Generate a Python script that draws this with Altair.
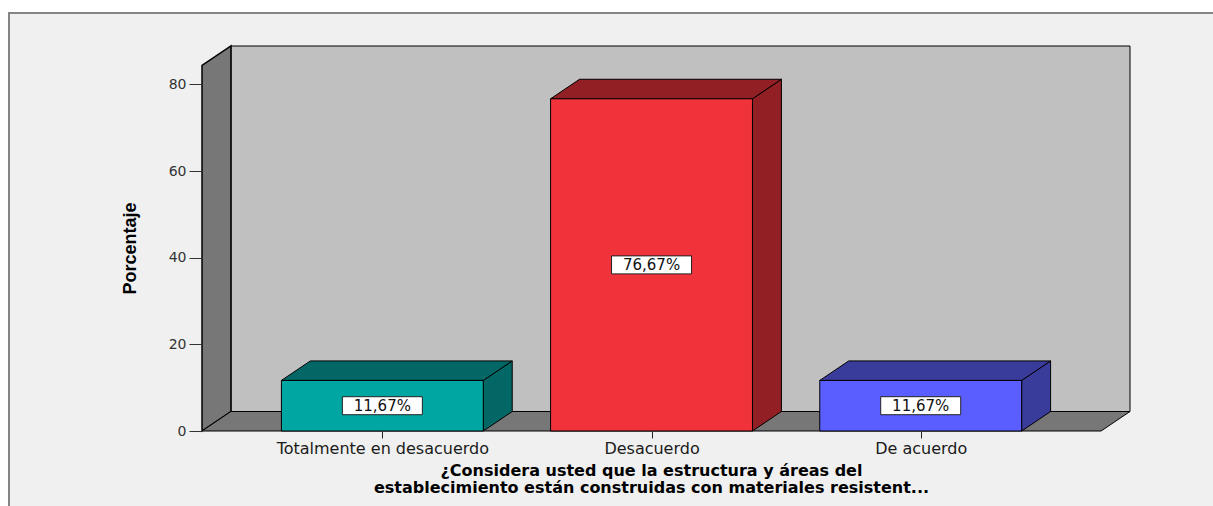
import altair as alt
import pandas as pd

# ---------------- data ----------------
categories = ["Totalmente en desacuerdo", "Desacuerdo", "De acuerdo"]
percent = [11.67, 76.67, 11.67]
value_labels = ["11,67%", "76,67%", "11,67%"]
y_ticks = [0, 20, 40, 60, 80]
y_title = "Porcentaje"
x_title = [
    "¿Considera usted que la estructura y áreas del",
    "establecimiento están construidas con materiales resistent...",
]

# ---------------- styles ----------------
front_colors = ["#00a6a2", "#f0323b", "#5a5eff"]
side_colors = ["#036765", "#921f24", "#3a3c9c"]
WALL_COLOR = "#777777"
BACK_COLOR = "#c0c0c0"
FRAME_COLOR = "#f0f0f0"

# ---------------- layout (3D box geometry) ----------------
W, H = 928, 385
PAD_OUT = 0.17          # outer padding in category steps
HALF = 0.375            # half bar width in category steps
FLOOR_END = 3 + 2 * PAD_OUT
DX = 0.1075             # depth offset (x units)
DV = 4.5                # depth offset (y units)
X_MAX = FLOOR_END + DX
Y_MAX = 88.85
WALL_TOP = Y_MAX - DV

centers = [PAD_OUT + 0.5 + i for i in range(len(categories))]

xs = alt.Scale(domain=[0, X_MAX], nice=False, zero=False)
ys = alt.Scale(domain=[0, Y_MAX], nice=False, zero=False)

# label expression for category axis
expr = "'" + categories[-1] + "'"
for c, name in reversed(list(zip(centers[:-1], categories[:-1]))):
    expr = f"datum.value < {c + 0.5} ? '{name}' : ({expr})"

x_axis = alt.Axis(
    values=centers, labelExpr=expr, tickSize=7, tickColor="#222",
    labelFont="DejaVu Sans", labelFontSize=16, labelColor="#1a1a1a",
    labelPadding=2, labelOverlap=False, labelFlush=False, labelLimit=0,
    domain=False, grid=False, zindex=1,
    title=x_title, titleFont="DejaVu Sans", titleFontSize=16,
    titleFontWeight="bold", titleColor="#000", titleLineHeight=17,
    titleX=449, titleY=44, titleAlign="center", titleBaseline="alphabetic",
    titleLimit=0,
)
y_axis = alt.Axis(
    values=y_ticks, tickSize=13, tickColor="#333",
    labelFont="DejaVu Sans", labelFontSize=14, labelColor="#333",
    labelPadding=3, domain=False, grid=False, zindex=1,
    title=y_title, titleFont="Liberation Sans Narrow, Liberation Sans",
    titleFontSize=18, titleFontWeight="bold", titleColor="#000",
    titleAngle=270, titleX=-72, titleY=202, titleAlign="center",
    titleBaseline="middle",
)


def X(field):
    return alt.X(field, type="quantitative", scale=xs, axis=x_axis)


def Y(field):
    return alt.Y(field, type="quantitative", scale=ys, axis=y_axis)


# ---------------- tables ----------------
back_df = pd.DataFrame({"x": [DX], "x2": [X_MAX], "y": [DV], "y2": [Y_MAX]})
left_df = pd.DataFrame({"x": [0, DX], "y": [0, DV], "y2": [WALL_TOP, Y_MAX]})
floor_df = pd.DataFrame({"y": [0, DV], "x": [0, DX], "x2": [FLOOR_END, X_MAX]})

front_rows, side_rows, top_rows, lab_rows = [], [], [], []
for i, (cat, v, lab) in enumerate(zip(categories, percent, value_labels)):
    x0, x1 = centers[i] - HALF, centers[i] + HALF
    front_rows.append({"cat": cat, "x": x0, "x2": x1, "y": 0, "y2": v, "fill": front_colors[i]})
    side_rows += [
        {"g": i, "x": x1, "y": v, "y2": 0, "fill": side_colors[i]},
        {"g": i, "x": x1 + DX, "y": v + DV, "y2": DV, "fill": side_colors[i]},
    ]
    top_rows += [
        {"g": i, "y": v, "x": x0, "x2": x1, "fill": side_colors[i]},
        {"g": i, "y": v + DV, "x": x0 + DX, "x2": x1 + DX, "fill": side_colors[i]},
    ]
    lab_rows.append({"x": centers[i], "y": v / 2, "label": lab})

front_df = pd.DataFrame(front_rows)
side_df = pd.DataFrame(side_rows)
top_df = pd.DataFrame(top_rows)
lab_df = pd.DataFrame(lab_rows)

# ---------------- layers ----------------
frame = alt.Chart(pd.DataFrame({"a": [0]})).mark_rect(
    fill=FRAME_COLOR, stroke="#858585", strokeWidth=2
).encode(
    x=alt.value(-193), x2=alt.value(W + 200), y=alt.value(-33), y2=alt.value(H + 200)
)

back = alt.Chart(back_df).mark_rect(fill=BACK_COLOR, stroke="#000", strokeWidth=1).encode(
    x=X("x"), x2="x2:Q", y=Y("y"), y2="y2:Q",
)

left_wall = alt.Chart(left_df).mark_area(
    orient="vertical", fill=WALL_COLOR, stroke="#000", strokeWidth=1.5
).encode(x=X("x"), y=Y("y"), y2="y2:Q")

floor = alt.Chart(floor_df).mark_area(
    orient="horizontal", fill=WALL_COLOR, stroke="#000", strokeWidth=1
).encode(y=Y("y"), x=X("x"), x2="x2:Q")

sides = alt.Chart(side_df).mark_area(
    orient="vertical", stroke="#000", strokeWidth=1
).encode(
    x=X("x"), y=Y("y"), y2="y2:Q",
    detail="g:N", color=alt.Color("fill:N", scale=None),
)

tops = alt.Chart(top_df).mark_area(
    orient="horizontal", stroke="#000", strokeWidth=1
).encode(
    y=Y("y"), x=X("x"), x2="x2:Q",
    detail="g:N", color=alt.Color("fill:N", scale=None),
)

fronts = alt.Chart(front_df).mark_rect(stroke="#000", strokeWidth=1).encode(
    x=X("x"), x2="x2:Q", y=Y("y"), y2="y2:Q",
    color=alt.Color("fill:N", scale=None),
)

boxes = alt.Chart(lab_df).mark_point(
    shape="M-1,-0.225L1,-0.225L1,0.225L-1,0.225Z", size=6400,
    filled=True, fill="#ffffff", stroke="#222", strokeWidth=1, opacity=1,
).encode(x=X("x"), y=Y("y"))

texts = alt.Chart(lab_df).mark_text(
    font="DejaVu Sans", fontSize=15, color="#111", align="center", baseline="middle"
).encode(x=X("x"), y=Y("y"), text="label:N")

chart = alt.layer(
    frame, back, left_wall, floor, sides, tops, fronts, boxes, texts
).properties(
    width=W, height=H,
    autosize=alt.AutoSizeParams(type="none"),
    padding={"left": 202, "top": 46, "right": 1213 - 202 - W, "bottom": 506 - 46 - H},
    background="#ffffff",
).configure_view(stroke=None)

chart.save("out.html", embed_options={"renderer": "svg", "actions": False})
